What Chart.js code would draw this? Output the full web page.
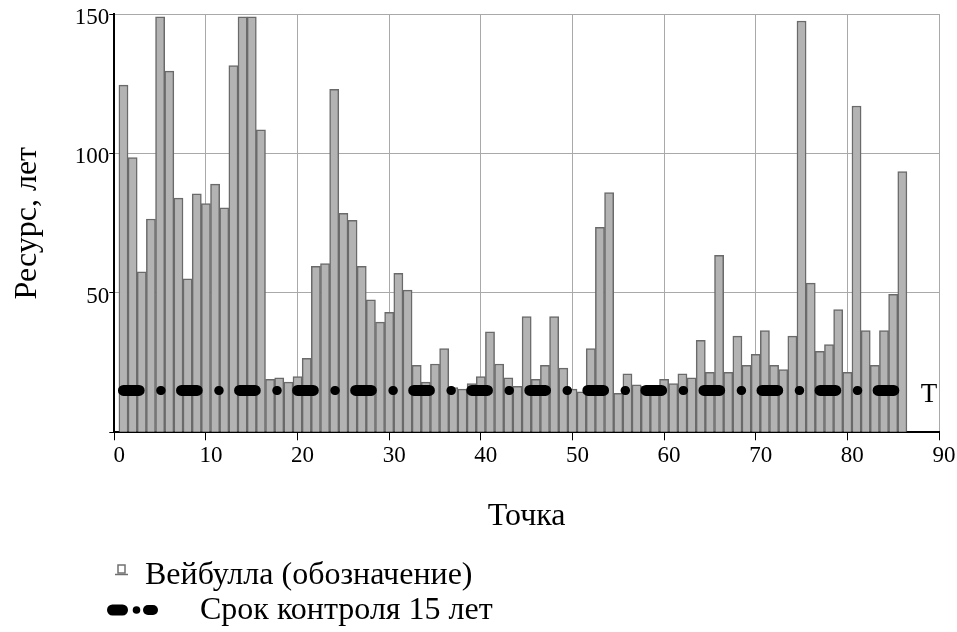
<!DOCTYPE html>
<html>
<head>
<meta charset="utf-8">
<script src="https://cdn.jsdelivr.net/npm/chart.js@4.4.1/dist/chart.umd.min.js"></script>
<style>
html,body{margin:0;padding:0;background:#fff;}
#wrap{position:relative;width:957px;height:632px;}
</style>
</head>
<body>
<div id="wrap"><canvas id="c"></canvas></div>
<script>
// ---- data ----
const points = [1,2,3,4,5,6,7,8,9,10,11,12,13,14,15,16,17,18,19,20,
  21,22,23,24,25,26,27,28,29,30,31,32,33,34,35,36,37,38,39,40,
  41,42,43,44,45,46,47,48,49,50,51,52,53,54,55,56,57,58,59,60,
  61,62,63,64,65,66,67,68,69,70,71,72,73,74,75,76,77,78,79,80,
  81,82,83,84,85,86];
const resource = [124.5,98.5,57.5,76.5,149,129.5,84,55,85.5,82,
  89,80.5,131.5,149,149,108.5,19,19.5,18,20,
  26.5,59.5,60.5,123,78.5,76,59.5,47.5,39.5,43,
  57,51,24,18,24.5,30,16,15.5,17.5,20,
  36,24.5,19.5,16.5,41.5,19,24,41.5,23,15.5,
  14.5,30,73.5,86,14,21,17,16.5,16,19,
  17.5,21,19.5,33,21.5,63.5,21.5,34.5,24,28,
  36.5,24,22.5,34.5,147.5,53.5,29,31.5,44,21.5,
  117,36.5,24,36.5,49.5,93.5];
const controlTerm = 15;
const controlMark = 'T';
const xTickValues = [0,10,20,30,40,50,60,70,80,90];
const yTickValues = [0,50,100,150];
const seriesNames = ['Вейбулла (обозначение)', 'Срок контроля 15 лет'];
const xTitle = 'Точка';
const yTitle = 'Ресурс, лет';

// ---- styling ----
const SERIF = '"Liberation Serif", "Times New Roman", serif';
const GRID = '#a9a9a9';
const BAR_FILL = '#b3b3b3';
const BAR_EDGE = '#6a6a6a';

const barData = points.map((p, i) => ({x: p, y: resource[i]}));
const lineData = [{x: points[0], y: controlTerm}, {x: points[points.length - 1], y: controlTerm}];

const extras = {
  id: 'extras',
  afterDatasetsDraw(chart) {
    const ctx = chart.ctx;
    const xs = chart.scales.x, ys = chart.scales.y;
    ctx.save();
    // "T" mark at the end of the control line
    ctx.fillStyle = '#000';
    ctx.font = '27px ' + SERIF;
    ctx.textAlign = 'center';
    ctx.textBaseline = 'alphabetic';
    ctx.fillText(controlMark, xs.getPixelForValue(88.9), ys.getPixelForValue(controlTerm) + 12);

    // legend item 1: small bar glyph
    ctx.lineWidth = 1.5;
    ctx.strokeStyle = '#707070';
    ctx.fillStyle = '#ffffff';
    ctx.fillRect(118, 565, 7, 8);
    ctx.strokeRect(118, 565, 7, 8);
    ctx.beginPath();
    ctx.moveTo(115, 574.5); ctx.lineTo(128, 574.5);
    ctx.stroke();
    ctx.fillStyle = '#000';
    ctx.font = '32px ' + SERIF;
    ctx.textAlign = 'left';
    ctx.textBaseline = 'alphabetic';
    ctx.fillText(seriesNames[0], 145, 584);

    // legend item 2: dash-dot glyph
    ctx.strokeStyle = '#000';
    ctx.lineCap = 'round';
    ctx.lineWidth = 11;
    ctx.beginPath(); ctx.moveTo(112.5, 610); ctx.lineTo(122.5, 610); ctx.stroke();
    ctx.lineWidth = 10;
    ctx.beginPath(); ctx.moveTo(148, 610); ctx.lineTo(153, 610); ctx.stroke();
    ctx.beginPath(); ctx.fillStyle = '#000'; ctx.arc(136.5, 610, 3.8, 0, Math.PI * 2); ctx.fill();
    ctx.fillText(seriesNames[1], 200, 619);
    ctx.restore();
  }
};

new Chart(document.getElementById('c'), {
  type: 'bar',
  data: {
    datasets: [
      {
        type: 'line',
        label: seriesNames[1],
        data: lineData,
        borderColor: '#000',
        borderWidth: 11,
        borderCapStyle: 'round',
        borderDash: [15.7, 42.35],
        pointRadius: 0,
        fill: false,
        tension: 0,
        order: 0
      },
      {
        type: 'line',
        label: seriesNames[1] + ' •',
        data: lineData,
        borderColor: '#000',
        borderWidth: 9,
        borderCapStyle: 'round',
        borderDash: [0.5, 57.55],
        borderDashOffset: 20.85,
        pointRadius: 0,
        fill: false,
        tension: 0,
        order: 0
      },
      {
        type: 'bar',
        label: seriesNames[0],
        data: barData,
        backgroundColor: BAR_FILL,
        borderColor: BAR_EDGE,
        borderWidth: 1.5,
        barPercentage: 1,
        categoryPercentage: 1,
        order: 2
      }
    ]
  },
  options: {
    responsive: true,
    maintainAspectRatio: false,
    animation: false,
    layout: {padding: {left: 0, right: 18, top: 14, bottom: 0}},
    plugins: {legend: {display: false}, tooltip: {enabled: false}},
    scales: {
      x: {
        type: 'linear',
        min: 0, max: 90,
        offset: false,
        afterBuildTicks(scale) { scale.ticks = xTickValues.map(v => ({value: v})); },
        afterFit(scale) { scale.height = 632 - 432.3; },
        grid: {color: GRID, lineWidth: 1, offset: false, tickColor: '#000', tickLength: 8, drawTicks: true},
        border: {color: '#000', width: 2},
        ticks: {
          color: '#000', font: {family: SERIF, size: 23},
          padding: 2, labelOffset: 5, maxRotation: 0, autoSkip: false
        },
        title: {
          display: true, text: xTitle, color: '#000',
          font: {family: SERIF, size: 32}, padding: {top: 0, bottom: 96}
        }
      },
      y: {
        type: 'linear',
        min: 0, max: 150,
        afterBuildTicks(scale) { scale.ticks = yTickValues.map(v => ({value: v})); },
        afterFit(scale) { scale.width = 114.3; },
        grid: {color: GRID, lineWidth: 1, tickColor: '#000', tickLength: 5},
        border: {color: '#000', width: 2},
        ticks: {
          color: '#000', font: {family: SERIF, size: 23},
          padding: 0, labelOffset: 4,
          callback: v => (v === 0 ? '' : String(v))
        },
        title: {
          display: true, text: yTitle, color: '#000',
          font: {family: SERIF, size: 32}, padding: {top: 8, bottom: 0}
        }
      }
    }
  },
  plugins: [extras]
});
</script>
</body>
</html>
